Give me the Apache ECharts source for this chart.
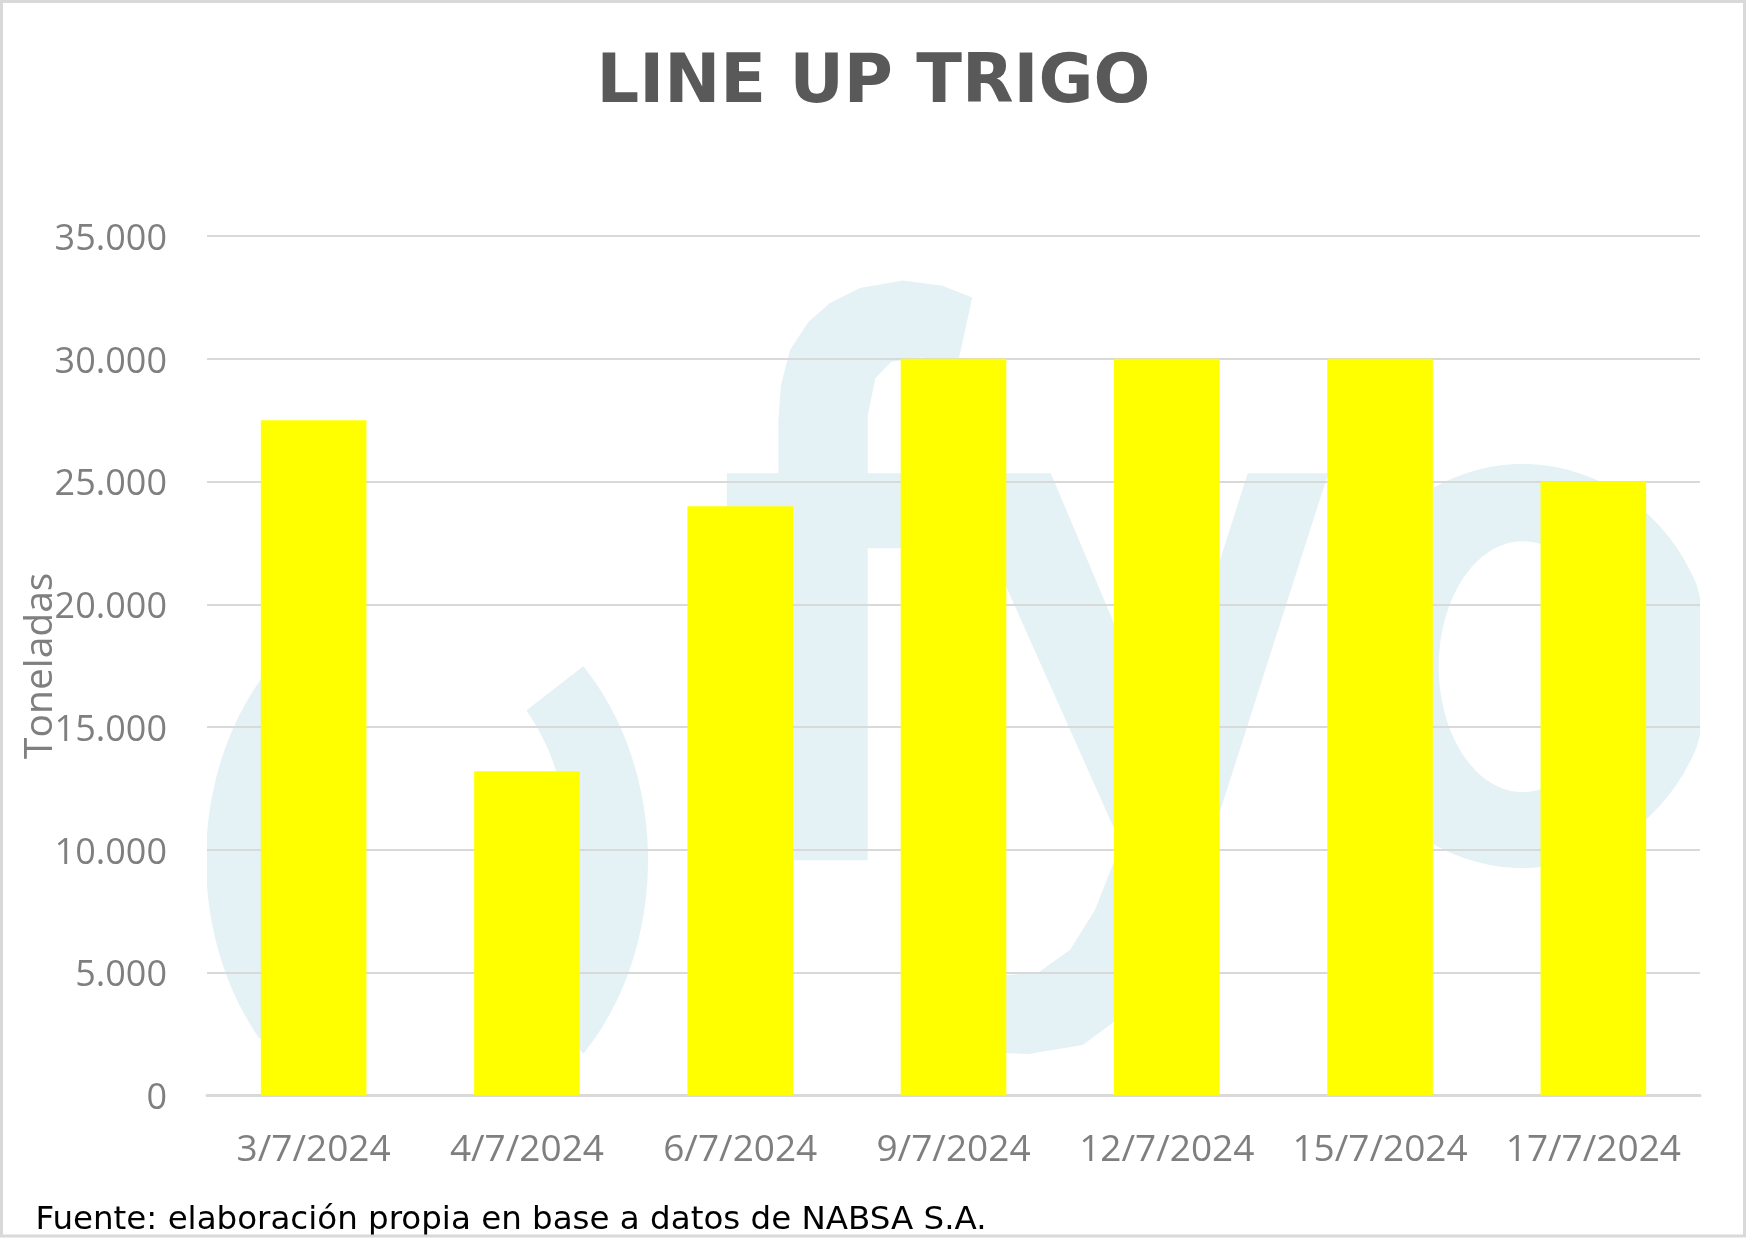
<!DOCTYPE html>
<html>
<head>
<meta charset="utf-8">
<script src="https://cdn.jsdelivr.net/npm/echarts@6/dist/echarts.min.js"></script>
<style>
  html, body { margin: 0; padding: 0; background: #ffffff; }
  #chart { width: 1747px; height: 1238px; }
</style>
</head>
<body>
<div id="chart"></div>
<script>
// ---- data ----
const categories = ['3/7/2024', '4/7/2024', '6/7/2024', '9/7/2024', '12/7/2024', '15/7/2024', '17/7/2024'];
const tonnes = [27500, 13200, 24000, 30000, 30000, 30000, 25000];
const yTickValues = [0, 5000, 10000, 15000, 20000, 25000, 30000, 35000];
const yTickLabels = ['0', '5.000', '10.000', '15.000', '20.000', '25.000', '30.000', '35.000'];
const titleText = 'LINE UP TRIGO';
const yAxisName = 'Toneladas';
const sourceText = 'Fuente: elaboración propia en base a datos de NABSA S.A.';

// ---- decorative watermark (logo behind the plot) ----
const WM = '#e4f1f5';
const PL = 207, PR = 1700, PB = 1095;
function clampPts(pts) {
  return pts.map(p => [Math.min(PR, Math.max(PL, p[0])), Math.min(PB, p[1])]);
}
function arc(cx, cy, a, b, d0, d1, n) {
  const pts = [];
  for (let i = 0; i <= n; i++) {
    const t = (d0 + (d1 - d0) * i / n) * Math.PI / 180;
    pts.push([cx + a * Math.cos(t), cy + b * Math.sin(t)]);
  }
  return pts;
}
const wmLeft = clampPts(arc(427, 860, 221, 274, 139.3, 222.6, 40).concat(arc(427, 860, 143, 208, 222.6, 139.3, 40)));
const wmRight = clampPts(arc(427, 860, 221, 274, -45, 45, 40).concat(arc(427, 860, 143, 208, 42, -46, 40)));
const wmO = clampPts(arc(1522.7, 666, 190, 202, 0, 360, 90).concat(arc(1522.7, 666.7, 84, 125.5, 360, 0, 90)));
const wmF = [[778.4, 860.2], [778.4, 548.3], [726.8, 548.3], [726.8, 473.3], [778.4, 473.3], [778.4, 420.8],
  [781, 385], [790, 350], [808.4, 322], [830, 303], [860, 288], [902.8, 280.4], [942.3, 285.7], [972.3, 297.5], [958.3, 360.7],
  [920, 357.5], [891.3, 361.8], [875.4, 377.9], [867.7, 415.4], [867.7, 473.3], [930, 473.3], [930, 548.3],
  [867.7, 548.3], [867.7, 860.2]];
const wmY = [[955.7, 473.3], [1050.8, 473.3], [1162.7, 739], [1247.8, 473.3], [1328.2, 473.3], [1219.8, 812],
  [1195, 880], [1165, 950], [1130, 1010], [1082.7, 1045], [1028.4, 1054], [980, 1052], [980, 977], [1038, 972.7],
  [1070, 950], [1095, 910], [1121, 844]];

function poly(points) {
  return { type: 'polygon', z: -10, silent: true, shape: { points: points, smooth: 0 }, style: { fill: WM } };
}

const chart = echarts.init(document.getElementById('chart'), null, { renderer: 'canvas' });
chart.setOption({
  backgroundColor: '#ffffff',
  animation: false,
  title: {
    text: titleText,
    left: 'center',
    top: 51,
    padding: 0,
    textStyle: { fontFamily: 'DejaVu Sans', fontWeight: 'bold', fontSize: 67, color: '#595959' }
  },
  grid: { left: 207, right: 47, top: 236, bottom: 142.5 },
  xAxis: {
    type: 'category',
    data: categories,
    axisLine: { show: true, lineStyle: { color: '#d9d9d9', width: 3 } },
    axisTick: { show: false },
    axisLabel: { margin: 36.5, fontFamily: 'Open Sans', fontSize: 37, color: '#7f7f7f', interval: 0 },
    splitLine: { show: false }
  },
  yAxis: {
    type: 'value',
    min: 0,
    max: 35000,
    interval: 5000,
    name: yAxisName,
    nameLocation: 'middle',
    nameGap: 147,
    nameMoveOverlap: false,
    nameTextStyle: { fontFamily: 'Open Sans', fontSize: 39, color: '#7f7f7f' },
    axisLine: { show: false },
    axisTick: { show: false },
    axisLabel: {
      margin: 40, fontFamily: 'Open Sans', fontSize: 36, color: '#7f7f7f',
      formatter: function (v) { const i = yTickValues.indexOf(v); return i >= 0 ? '{v|' + yTickLabels[i] + '}' : ''; },
      rich: { v: { fontFamily: 'Open Sans', fontSize: 36, color: '#7f7f7f', padding: [7, 0, 0, 0] } }
    },
    splitLine: { show: true, lineStyle: { color: '#d9d9d9', width: 2 } }
  },
  series: [{
    type: 'bar',
    data: tonnes,
    barWidth: '49.5%',
    itemStyle: { color: '#ffff00' },
    z: 5
  }],
  graphic: {
    elements: [
      poly(wmLeft), poly(wmRight), poly(wmF), poly(wmY), poly(wmO),
      {
        type: 'text', silent: true, z: 10,
        style: { x: 35.5, y: 1221, text: sourceText, font: '32.5px "DejaVu Sans"', fill: '#000000', verticalAlign: 'middle', align: 'left' }
      },
      {
        type: 'rect', silent: true, z: 20,
        shape: { x: 1.5, y: 1.5, width: 1743, height: 1234.5 },
        style: { fill: 'none', stroke: '#d9d9d9', lineWidth: 3 }
      }
    ]
  }
});
</script>
</body>
</html>
